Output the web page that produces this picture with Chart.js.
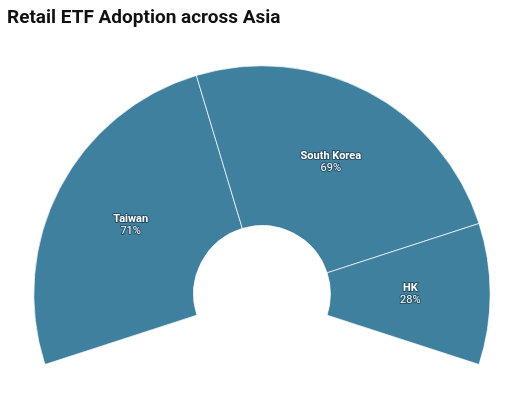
<!DOCTYPE html>
<html>
<head>
<meta charset="utf-8">
<script src="https://cdn.jsdelivr.net/npm/chart.js@4"></script>
<style>
  html, body { margin: 0; padding: 0; background: #fff; overflow: hidden; }
  #wrap { width: 517px; height: 402px; }
</style>
</head>
<body>
<div id="wrap"><canvas id="chart"></canvas></div>
<script>
const labels = ['Taiwan', 'South Korea', 'HK'];
const adoption = [71, 69, 28];
const sliceColor = '#40809f';

// draws name + percent in the middle of each slice
const sliceLabels = {
  id: 'sliceLabels',
  afterDatasetsDraw(chart) {
    const ctx = chart.ctx;
    const meta = chart.getDatasetMeta(0);
    ctx.save();
    ctx.textAlign = 'center';
    ctx.textBaseline = 'middle';
    ctx.lineJoin = 'round';
    meta.data.forEach((arc, i) => {
      const p = arc.getCenterPoint();
      const lines = [
        { text: labels[i], font: 'bold 11px Roboto', y: p.y - 6 },
        { text: adoption[i] + '%', font: '11px Roboto', y: p.y + 6 }
      ];
      lines.forEach(l => {
        ctx.font = l.font;
        ctx.strokeStyle = 'rgba(20,50,70,0.6)';
        ctx.lineWidth = 2;
        ctx.strokeText(l.text, p.x, l.y);
        ctx.fillStyle = '#fff';
        ctx.fillText(l.text, p.x, l.y);
      });
    });
    ctx.restore();
  }
};

new Chart(document.getElementById('chart'), {
  type: 'doughnut',
  data: {
    labels: labels,
    datasets: [{
      data: adoption,
      backgroundColor: sliceColor,
      hoverBackgroundColor: sliceColor,
      borderColor: 'rgba(255,255,255,0.7)',
      borderWidth: 1
    }]
  },
  options: {
    responsive: true,
    maintainAspectRatio: false,
    animation: false,
    rotation: -108,
    circumference: 216,
    cutout: '30%',
    layout: {
      padding: { left: 7, right: 0, top: 0, bottom: 37 }
    },
    plugins: {
      legend: { display: false },
      tooltip: { enabled: false },
      title: {
        display: true,
        text: 'Retail ETF Adoption across Asia',
        align: 'start',
        color: '#111',
        font: { family: 'Roboto', size: 19, weight: 'bold' },
        padding: { top: 7, bottom: 35.5 }
      }
    }
  },
  plugins: [sliceLabels]
});
</script>
</body>
</html>
